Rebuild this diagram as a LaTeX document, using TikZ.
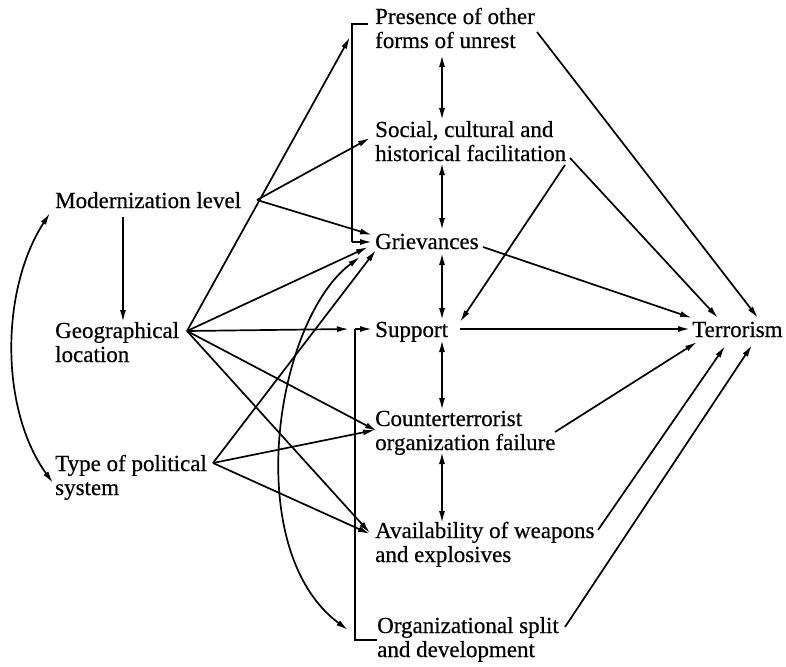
\documentclass[tikz,border=0pt]{standalone}
\usepackage{fontspec}
\setmainfont{Liberation Serif}[FakeBold=0.5]
\usetikzlibrary{arrows.meta}
\begin{document}
\begin{tikzpicture}[x=1pt,y=-1pt,
    lbl/.style={inner sep=0pt,anchor=base west,align=left,font=\fontsize{23}{24}\selectfont\addfontfeature{FakeBold=0.5}},
    arr/.style={line width=1.7pt,-{Latex[length=12pt,width=6pt]}},
    dbl/.style={line width=1.7pt,{Latex[length=12pt,width=6pt]}-{Latex[length=12pt,width=6pt]}},
    brk/.style={line width=1.7pt}]
        \useasboundingbox (0,0) rectangle (786,666);

        % Background factors (base = last line)
        \node[lbl] (mod) at (55,208) {Modernization level};
        \node[lbl] (geo) at (55,362) {Geographical\\location};
        \node[lbl] (typ) at (55,495) {Type of political\\system};

        % Intermediate factors
        \node[lbl] (pres) at (375,48) {Presence of other\\forms of unrest};
        \node[lbl] (soc) at (375,161) {Social, cultural and\\historical facilitation};
        \node[lbl] (grv) at (375,249) {Grievances};
        \node[lbl] (sup) at (375,337) {Support};
        \node[lbl] (ctr) at (375,450) {Counterterrorist\\organization failure};
        \node[lbl] (avl) at (375,562) {Availability of weapons\\and explosives};
        \node[lbl] (org) at (377,657) {Organizational split\\and development};
        \node[lbl] (ter) at (692,337) {Terrorism};

        % Ports where the lines meet
        \coordinate (mod-o) at (257,200);
        \coordinate (mod-s) at (123,217);
        \coordinate (mod-w) at (50,213);
        \coordinate (geo-n) at (123,322);
        \coordinate (geo-o) at (187,331);
        \coordinate (typ-o) at (213,463);
        \coordinate (typ-w) at (53,483);
        \coordinate (brk1) at (350,37);
        \coordinate (brk2) at (349,329);
        \coordinate (pres-o) at (537,32);
        \coordinate (soc-i) at (370,138);
        \coordinate (soc-o) at (570,158);
        \coordinate (soc-d) at (565,165);
        \coordinate (grv-i) at (372,242);
        \coordinate (grv-c) at (360,257);
        \coordinate (grv-o) at (483,247);
        \coordinate (sup-i) at (460,322);
        \coordinate (sup-o) at (460,329);
        \coordinate (ctr-i) at (377,431);
        \coordinate (ctr-o) at (555,432);
        \coordinate (avl-i) at (370,533);
        \coordinate (avl-o) at (598,530);
        \coordinate (org-c) at (348,630);
        \coordinate (org-o) at (565,627);
        \coordinate (ter-i) at (692,318);

        % Left side
        \draw[arr] (mod-s) -- (geo-n);
        \draw[dbl] (mod-w) .. controls (0,290) and (0,410) .. (typ-w);

        % Brackets
        \draw[brk] (368,24) -- (352,24) -- (352,242);
        \draw[arr] (352,242) -- (grv-i);
        \draw[brk] (377,640) -- (355,640) -- (355,329);
        \draw[arr] (355,329) -- (372,329);

        % From modernization level
        \draw[arr] (mod-o) -- (soc-i);
        \draw[arr] (mod-o) -- ([yshift=7pt]grv-i);

        % From geographical location
        \draw[arr] (geo-o) -- (brk1);
        \draw[arr] (geo-o) -- ([shift={(-4pt,-5pt)}]grv-i);
        \draw[arr] (geo-o) -- (brk2);
        \draw[arr] (geo-o) -- (ctr-i);
        \draw[arr] (geo-o) -- (avl-i);

        % From type of political system
        \draw[arr] (typ-o) -- ([shift={(4pt,-8pt)}]grv-i);
        \draw[arr] (typ-o) -- ([shift={(-2pt,1pt)}]ctr-i);
        \draw[arr] (typ-o) -- ([yshift=-1pt]avl-i);
        \draw[dbl] (grv-c) .. controls (275,320) and (240,550) .. (org-c);

        % Links between the intermediate factors
        \draw[dbl] (442,55) -- (442,120);
        \draw[dbl] (442,163) -- (442,230);
        \draw[dbl] (442,253) -- (442,320);
        \draw[dbl] (442,340) -- (442,410);
        \draw[dbl] (442,452) -- (442,523);
        \draw[arr] (soc-d) -- (sup-i);

        % Into terrorism
        \draw[arr] (pres-o) -- ([xshift=66pt]ter-i);
        \draw[arr] (soc-o) -- ([xshift=26pt]ter-i);
        \draw[arr] (grv-o) -- (ter-i);
        \draw[arr] (sup-o) -- (690,329);
        \draw[arr] (ctr-o) -- ([shift={(5pt,-24pt)}]ter-i);
        \draw[arr] (avl-o) -- ([shift={(33pt,-28pt)}]ter-i);
        \draw[arr] (org-o) -- ([shift={(60pt,-27pt)}]ter-i);
    \end{tikzpicture}
\end{document}
